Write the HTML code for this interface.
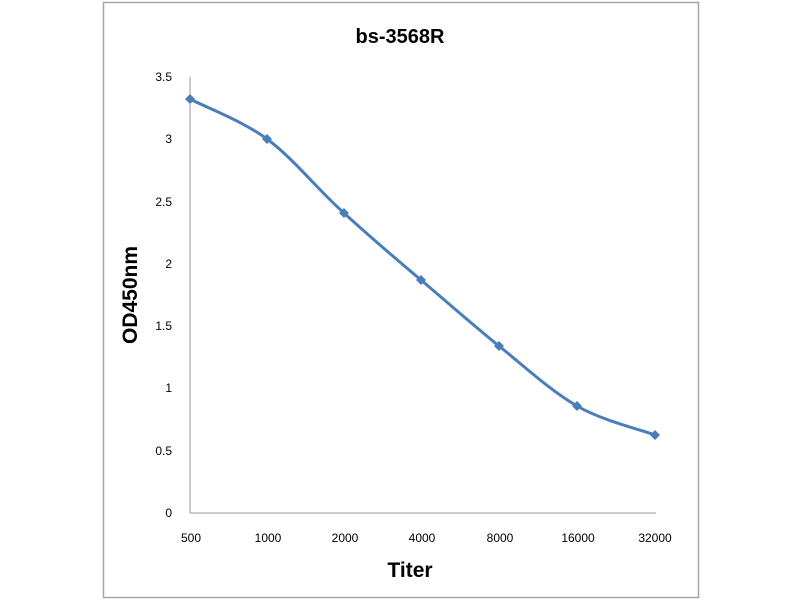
<!DOCTYPE html>
<html><head><style>body{margin:0;background:#fff}svg{display:block}</style></head>
<body>
<svg width="800" height="600" xmlns="http://www.w3.org/2000/svg" font-family="Liberation Sans, sans-serif">
<rect x="103.5" y="2.5" width="595" height="595" fill="#fff" stroke="#a6a6a6" stroke-width="1.5"/>
<text x="400" y="43" text-anchor="middle" font-size="20" font-weight="bold" fill="#000">bs-3568R</text>
<line x1="190" y1="77" x2="190" y2="513" stroke="#999" stroke-width="1"/>
<line x1="190" y1="513" x2="656" y2="513" stroke="#999" stroke-width="1"/>
<g font-size="12" fill="#000" text-anchor="end">
<text x="172" y="81">3.5</text><text x="172" y="143">3</text><text x="172" y="206">2.5</text>
<text x="172" y="268">2</text><text x="172" y="330">1.5</text><text x="172" y="392">1</text>
<text x="172" y="455">0.5</text><text x="172" y="517">0</text>
</g>
<g font-size="12" fill="#000" text-anchor="middle">
<text x="191" y="542">500</text><text x="268" y="542">1000</text><text x="345" y="542">2000</text>
<text x="422" y="542">4000</text><text x="500" y="542">8000</text><text x="578" y="542">16000</text><text x="655" y="542">32000</text>
</g>
<text x="410" y="577" text-anchor="middle" font-size="21" font-weight="bold">Titer</text>
<text transform="translate(137,295) rotate(-90)" text-anchor="middle" font-size="21" font-weight="bold">OD450nm</text>
<path d="M190,99 C203,106 241,120 267,139 C293,158 318,190 344,213 C370,237 395,258 421,280 C447,302 473,325 499,346 C525,367 551,391 577,406 C603,421 642,430 655,435" fill="none" stroke="#4a7ebb" stroke-width="3"/>
<g fill="#4a7ebb">
<path d="M190,94 l5,5 l-5,5 l-5,-5z"/><path d="M267,134 l5,5 l-5,5 l-5,-5z"/>
<path d="M344,208 l5,5 l-5,5 l-5,-5z"/><path d="M421,275 l5,5 l-5,5 l-5,-5z"/>
<path d="M499,341 l5,5 l-5,5 l-5,-5z"/><path d="M577,401 l5,5 l-5,5 l-5,-5z"/>
<path d="M655,430 l5,5 l-5,5 l-5,-5z"/>
</g>
</svg>
</body></html>
